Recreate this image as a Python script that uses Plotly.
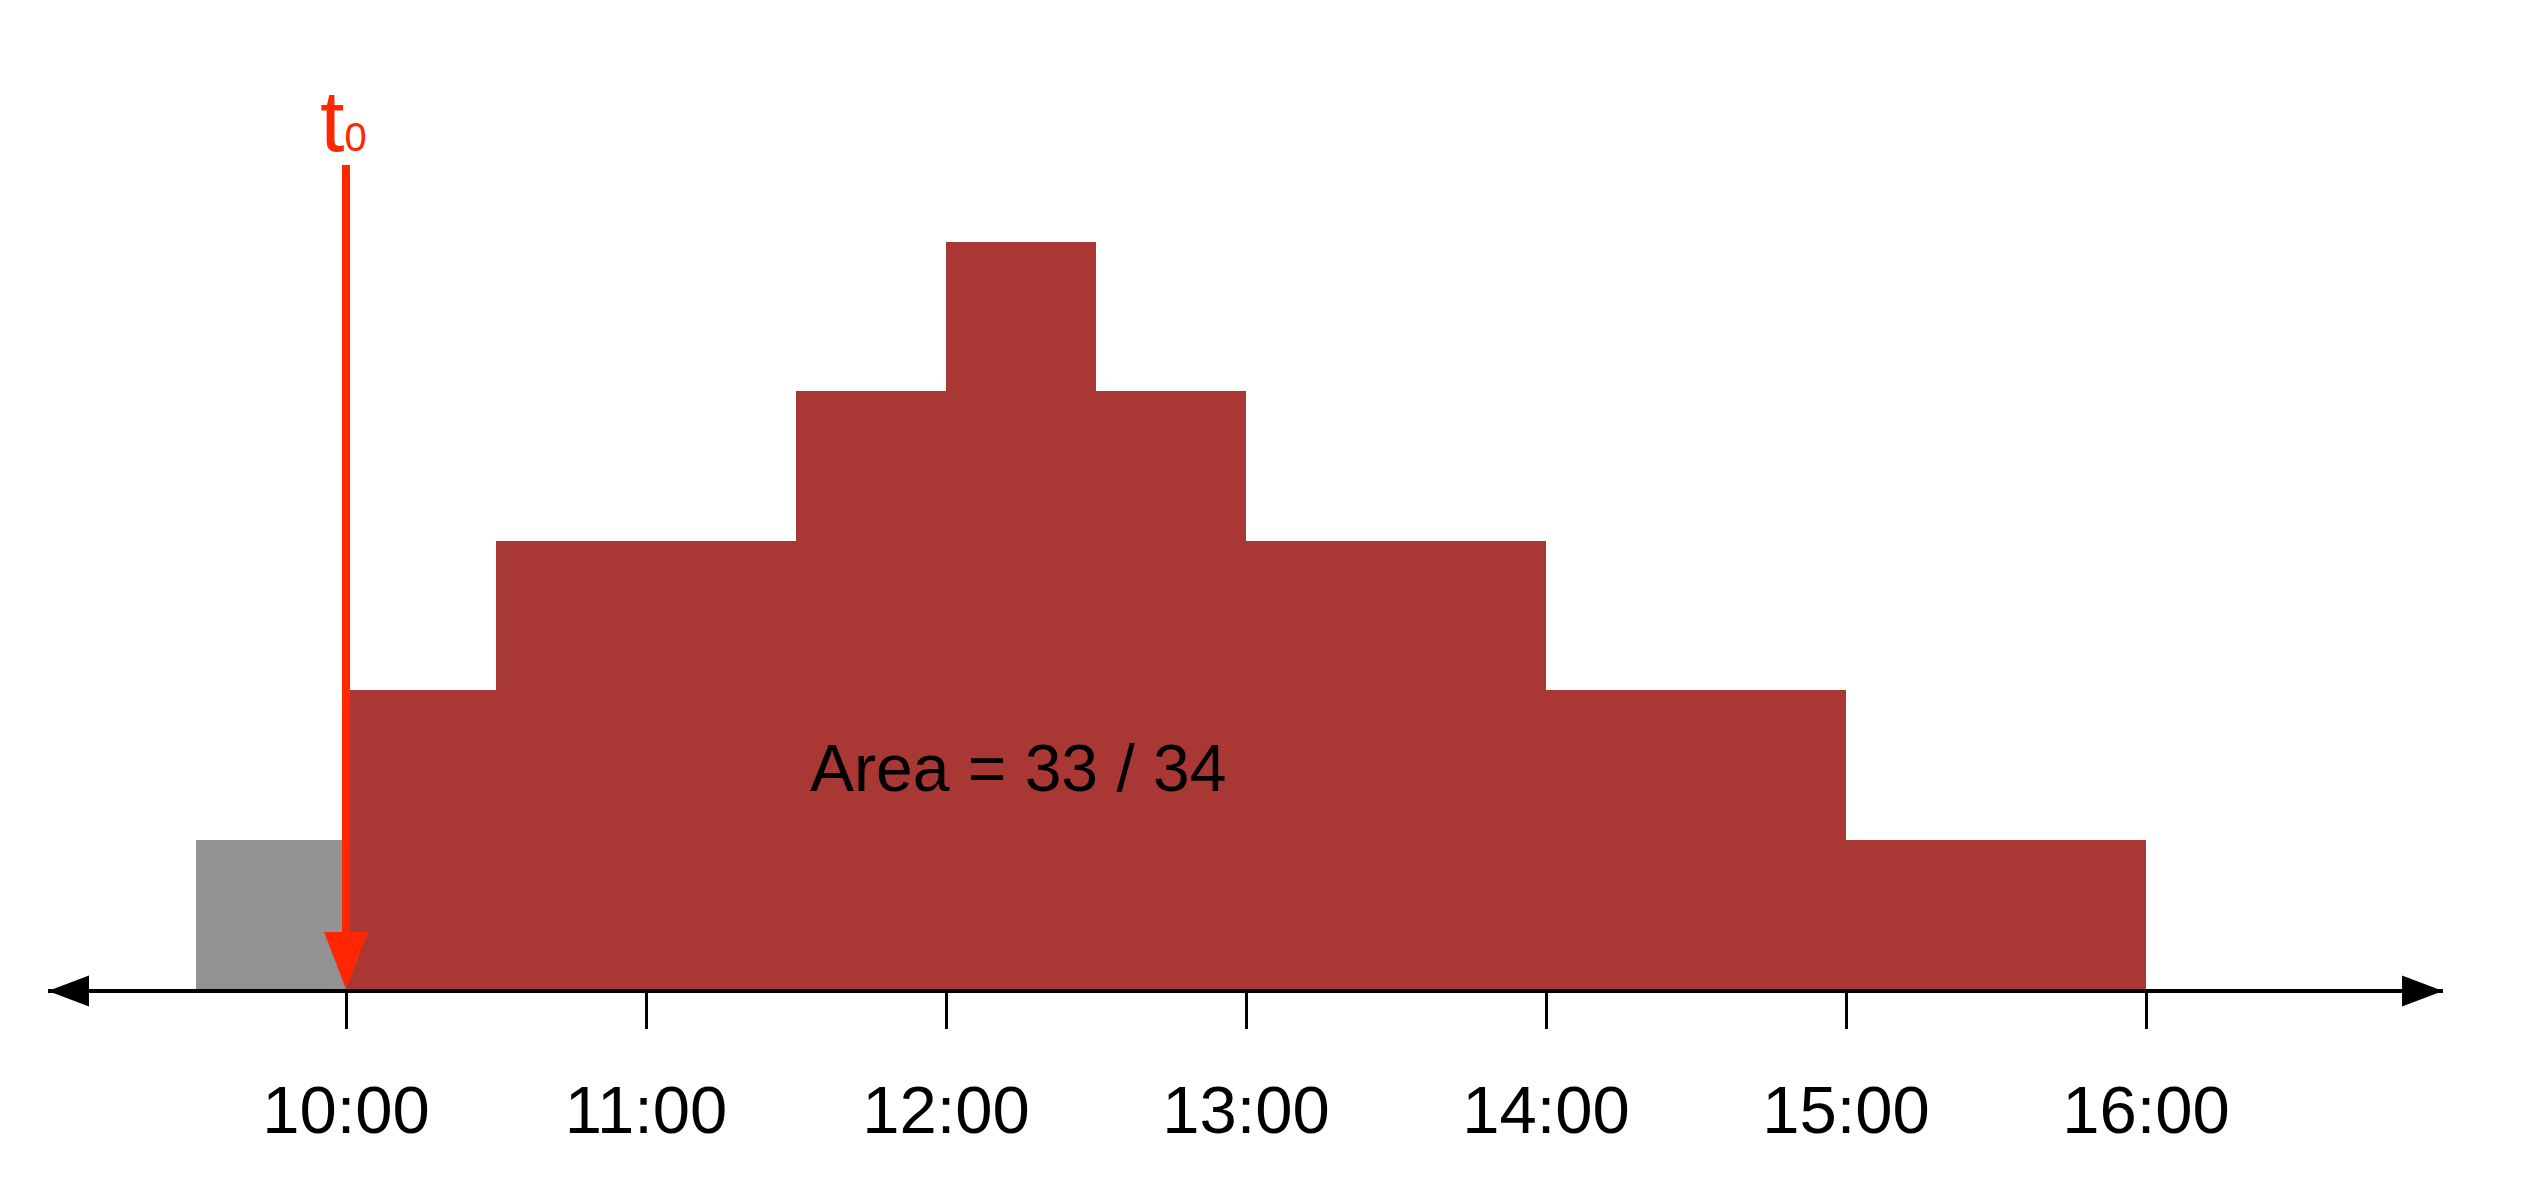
import plotly.graph_objects as go

# ---- data ----
bin_edges = [9.5, 10.0, 10.5, 11.5, 12.0, 12.5, 13.0, 14.0, 15.0, 16.0]   # hours
bin_heights = [1, 2, 3, 4, 5, 4, 3, 2, 1]
t0 = 10.0
tick_vals = [10, 11, 12, 13, 14, 15, 16]
tick_text = ["10:00", "11:00", "12:00", "13:00", "14:00", "15:00", "16:00"]

RED = "#A93834"
GRAY = "#929292"
ARROW = "#FF2600"

W, H = 2537, 1204
# pixel layout
ax_y = 989           # bottom of plot area (x-axis)
px_per_hour = 300.0
x_left_px, x_right_px = 48, 2443
t0_px = 346
unit_px = 149.4

xr = [t0 - (t0_px - x_left_px) / px_per_hour, t0 + (x_right_px - t0_px) / px_per_hour]
yr = [0, ax_y / unit_px]

centers = [(a + b) / 2 for a, b in zip(bin_edges[:-1], bin_edges[1:])]
widths = [b - a for a, b in zip(bin_edges[:-1], bin_edges[1:])]
colors = [GRAY if c < t0 else RED for c in centers]

# area after t0, in half-hour units
area_units = [h * w / 0.5 for h, w in zip(bin_heights, widths)]
area_after = sum(a for a, c in zip(area_units, centers) if c > t0)
area_total = sum(area_units)

fig = go.Figure()
fig.add_trace(go.Bar(x=centers, y=bin_heights, width=widths, marker=dict(color=colors, line=dict(width=0)),
                     hoverinfo="skip", showlegend=False))

def px2paper(px, py):
    return px / W, 1 - py / H

shapes = []
# axis arrowheads (paper coords)
def tri(p1, p2, p3, color):
    pts = [px2paper(*p) for p in (p1, p2, p3)]
    path = "M {} {} L {} {} L {} {} Z".format(pts[0][0], pts[0][1], pts[1][0], pts[1][1], pts[2][0], pts[2][1])
    return dict(type="path", xref="paper", yref="paper", path=path, fillcolor=color, line=dict(width=0), layer="above")

line_y = ax_y + 2
shapes.append(tri((48, line_y), (89, line_y - 15.5), (89, line_y + 15.5), "black"))
shapes.append(tri((2443, line_y), (2402, line_y - 15.5), (2402, line_y + 15.5), "black"))

# t0 arrow
head_h = 57 / unit_px
head_w = 22 / px_per_hour
shapes.append(dict(type="line", xref="x", yref="y", x0=t0, x1=t0, y0=(ax_y - 165) / unit_px, y1=head_h * 0.9,
                   line=dict(color=ARROW, width=8), layer="above"))
shapes.append(dict(type="path", xref="x", yref="y",
                   path="M {} {} L {} {} L {} {} Z".format(t0 - head_w, head_h, t0 + head_w, head_h, t0, 0),
                   fillcolor=ARROW, line=dict(width=0), layer="above"))

annotations = [
    dict(x=t0, y=(ax_y - 120) / unit_px, xref="x", yref="y", text="t<span style='font-size:40px'>0</span>",
         showarrow=False, font=dict(family="Liberation Sans, Arial", size=88, color=ARROW),
         xanchor="center", yanchor="middle", xshift=-3),
    dict(x=12.24, y=(ax_y - 768) / unit_px, xref="x", yref="y",
         text="Area = {:d} / {:d}".format(int(area_after), int(area_total)),
         showarrow=False, font=dict(family="Liberation Sans, Arial", size=66, color="black"),
         xanchor="center", yanchor="middle"),
]

fig.update_layout(
    width=W, height=H, margin=dict(l=0, r=0, t=0, b=0),
    paper_bgcolor="white", plot_bgcolor="white",
    bargap=0, shapes=shapes, annotations=annotations,
    xaxis=dict(domain=[x_left_px / W, x_right_px / W], range=xr, showgrid=False, zeroline=False,
               showline=True, linecolor="black", linewidth=4,
               tickmode="array", tickvals=tick_vals, ticktext=tick_text,
               ticks="outside", ticklen=36, tickwidth=3, tickcolor="black",
               ticklabelstandoff=24,
               tickfont=dict(family="Liberation Sans, Arial", size=67, color="black")),
    yaxis=dict(domain=[1 - ax_y / H, 1], range=yr, visible=False, fixedrange=True),
)

fig.write_html("out.html")
